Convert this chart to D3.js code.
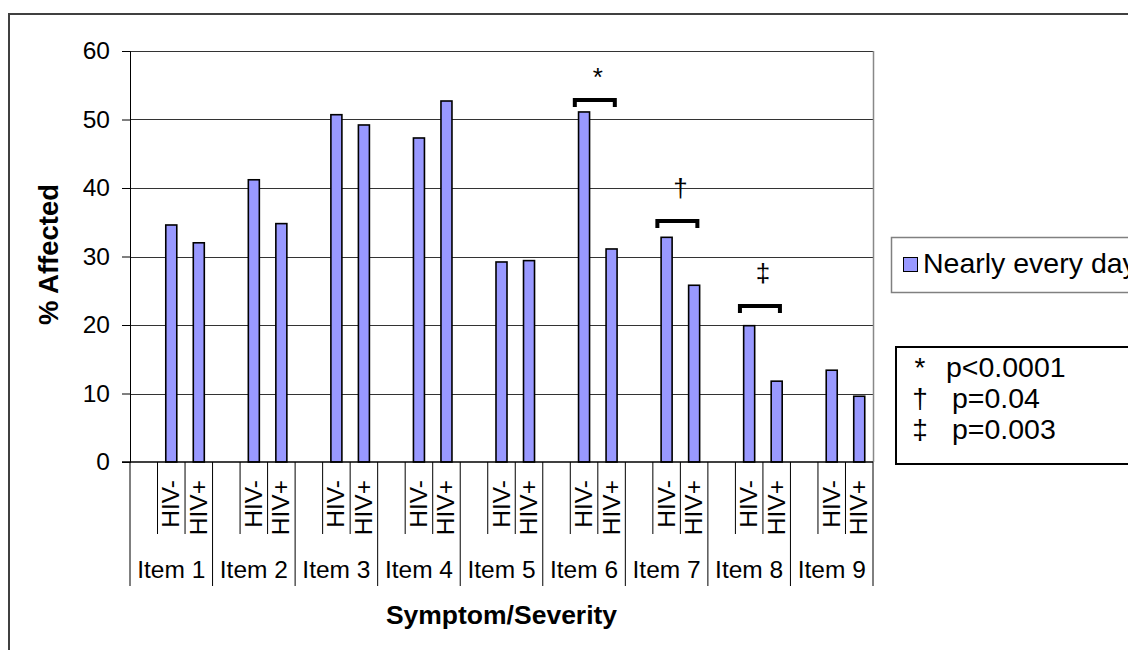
<!DOCTYPE html>
<html>
<head>
<meta charset="utf-8">
<script src="https://cdn.jsdelivr.net/npm/d3@7"></script>
<style>
  body { margin: 0; background: #fff; }
  svg { display: block; font-family: "Liberation Sans", Arial, sans-serif; }
</style>
</head>
<body>
<svg id="chart"></svg>
<script>
// data
var items = ["Item 1", "Item 2", "Item 3", "Item 4", "Item 5", "Item 6", "Item 7", "Item 8", "Item 9"];
var subCats = ["", "HIV-", "HIV+"];
var hivNeg = [34.6, 41.2, 50.7, 47.3, 29.2, 51.1, 32.8, 19.9, 13.4];
var hivPos = [32.0, 34.8, 49.2, 52.7, 29.4, 31.1, 25.8, 11.8, 9.6];
var yTicks = [0, 10, 20, 30, 40, 50, 60];

// significance brackets
var sigItems = ["Item 6", "Item 7", "Item 8"];
var sigMarks = ["*", "\u2020", "\u2021"];
var sigLevels = [53.2, 35.5, 23.1];

// p-value notes
var pSymbols = ["*", "\u2020", "\u2021"];
var pLabels = ["p<0.0001", "p=0.04", "p=0.003"];

var legendLabel = "Nearly every day";

var W = 1128, H = 650;
var svg = d3.select("#chart").attr("width", W).attr("height", H);

// outer frame
svg.append("rect")
  .attr("x", 9).attr("y", 14)
  .attr("width", 1200).attr("height", 700)
  .attr("fill", "#fff")
  .attr("stroke", "#404040")
  .attr("stroke-width", 2);

var plot = {left: 130, right: 873, top: 51, bottom: 462};

var y = d3.scaleLinear().domain([0, 60]).range([plot.bottom, plot.top]);
var x0 = d3.scaleBand().domain(items).range([plot.left, plot.right]);
var x1 = d3.scaleBand().domain(subCats).range([0, x0.bandwidth()]);

var rows = items.map(function(it, i){
  return {item: it, vals: [{k: "HIV-", v: hivNeg[i]}, {k: "HIV+", v: hivPos[i]}]};
});

// gridlines
svg.append("g").selectAll("line")
  .data(yTicks.slice(1))
  .enter().append("line")
  .attr("x1", plot.left).attr("x2", plot.right)
  .attr("y1", function(d){ return Math.round(y(d)) + 0.5; })
  .attr("y2", function(d){ return Math.round(y(d)) + 0.5; })
  .attr("stroke", "#333")
  .attr("stroke-width", 1);

// right border of plot area
svg.append("line")
  .attr("x1", plot.right + 0.5).attr("x2", plot.right + 0.5)
  .attr("y1", plot.top).attr("y2", plot.bottom)
  .attr("stroke", "#888").attr("stroke-width", 1.5);

// y axis
var yAxis = d3.axisLeft(y).tickValues(yTicks).tickSize(8).tickPadding(12);
var ya = svg.append("g")
  .attr("transform", "translate(" + plot.left + ",0)")
  .call(yAxis);
ya.selectAll("text").attr("font-size", 24.5).attr("fill", "#000").attr("font-family", "Liberation Sans, Arial, sans-serif");
ya.selectAll("line, path").attr("stroke", "#000");

// bars
var bw = x1.bandwidth() * 0.4;
var g = svg.append("g").selectAll("g")
  .data(rows)
  .enter().append("g")
  .attr("transform", function(d){ return "translate(" + x0(d.item) + ",0)"; });

g.selectAll("rect")
  .data(function(d){ return d.vals; })
  .enter().append("rect")
  .attr("x", function(d){ return x1(d.k) + (x1.bandwidth() - bw) / 2; })
  .attr("width", bw)
  .attr("y", function(d){ return y(d.v); })
  .attr("height", function(d){ return y(0) - y(d.v); })
  .attr("fill", "#9999FF")
  .attr("stroke", "#000")
  .attr("stroke-width", 1.6);

// x axis baseline
svg.append("line")
  .attr("x1", plot.left - 8).attr("x2", plot.right)
  .attr("y1", plot.bottom).attr("y2", plot.bottom)
  .attr("stroke", "#000").attr("stroke-width", 1.5);

// category separators
var sepLong = d3.range(items.length + 1).map(function(i){ return plot.left + i * x0.bandwidth(); });
svg.append("g").selectAll("line")
  .data(sepLong)
  .enter().append("line")
  .attr("x1", function(d){ return d; }).attr("x2", function(d){ return d; })
  .attr("y1", plot.bottom).attr("y2", 586)
  .attr("stroke", "#000").attr("stroke-width", 1);

var sepShort = [];
items.forEach(function(it){
  sepShort.push(x0(it) + x1("HIV-"));
  sepShort.push(x0(it) + x1("HIV+"));
});
svg.append("g").selectAll("line")
  .data(sepShort)
  .enter().append("line")
  .attr("x1", function(d){ return d; }).attr("x2", function(d){ return d; })
  .attr("y1", plot.bottom).attr("y2", 534)
  .attr("stroke", "#000").attr("stroke-width", 1);

// HIV labels (rotated)
g.selectAll("text.sub")
  .data(function(d){ return d.vals; })
  .enter().append("text")
  .attr("class", "sub")
  .attr("transform", function(d){
    return "translate(" + (x1(d.k) + x1.bandwidth() / 2 + 8) + ",480) rotate(-90)";
  })
  .attr("text-anchor", "end")
  .attr("font-size", 24.5)
  .text(function(d){ return d.k; });

// item labels
svg.append("g").selectAll("text")
  .data(items)
  .enter().append("text")
  .attr("x", function(d){ return x0(d) + x0.bandwidth() / 2; })
  .attr("y", 578)
  .attr("text-anchor", "middle")
  .attr("font-size", 24.5)
  .text(function(d){ return d; });

// axis titles
svg.append("text")
  .attr("x", (plot.left + plot.right) / 2)
  .attr("y", 624)
  .attr("text-anchor", "middle")
  .attr("font-size", 26.5)
  .attr("font-weight", "bold")
  .text("Symptom/Severity");

svg.append("text")
  .attr("transform", "translate(58," + ((plot.top + plot.bottom) / 2 - 2) + ") rotate(-90)")
  .attr("text-anchor", "middle")
  .attr("font-size", 27.5)
  .attr("font-weight", "bold")
  .text("% Affected");

// significance brackets
sigItems.forEach(function(it, i){
  var cx = x0(it) + x1("HIV+") - 2;
  var top = Math.round(y(sigLevels[i]));
  svg.append("path")
    .attr("d", "M" + (cx - 21) + "," + (top + 9) + "V" + (top + 2) + "H" + (cx + 19) + "V" + (top + 9))
    .attr("fill", "none")
    .attr("stroke", "#000")
    .attr("stroke-width", 4);
  svg.append("text")
    .attr("x", cx + 2)
    .attr("y", top - (sigMarks[i] == "*" ? 12 : 22))
    .attr("text-anchor", "middle")
    .attr("font-size", 26)
    .text(sigMarks[i]);
});

// series legend
var lg = svg.append("g").attr("transform", "translate(891,237)");
lg.append("rect")
  .attr("x", 0.5).attr("y", 0.5)
  .attr("width", 400).attr("height", 55)
  .attr("fill", "#fff")
  .attr("stroke", "#808080")
  .attr("stroke-width", 1.5);
lg.append("rect")
  .attr("x", 12.5).attr("y", 20.5)
  .attr("width", 14).attr("height", 14)
  .attr("fill", "#9999FF")
  .attr("stroke", "#000")
  .attr("stroke-width", 1);
lg.append("text")
  .attr("x", 32).attr("y", 36)
  .attr("font-size", 28.5)
  .text(legendLabel);

// p-value box
var pb = svg.append("g").attr("transform", "translate(896,347)");
pb.append("rect")
  .attr("x", 0).attr("y", 0)
  .attr("width", 400).attr("height", 117)
  .attr("fill", "#fff")
  .attr("stroke", "#000")
  .attr("stroke-width", 2);
pb.selectAll("text.sym")
  .data(pSymbols)
  .enter().append("text")
  .attr("class", "sym")
  .attr("x", 24)
  .attr("y", function(d, i){ return 30 + i * 31; })
  .attr("text-anchor", "middle")
  .attr("font-size", 28)
  .text(function(d){ return d; });
pb.selectAll("text.lab")
  .data(pLabels)
  .enter().append("text")
  .attr("class", "lab")
  .attr("x", function(d, i){ return i == 0 ? 50 : 56; })
  .attr("y", function(d, i){ return 30 + i * 31; })
  .attr("font-size", 28.5)
  .text(function(d){ return d; });
</script>
</body>
</html>
